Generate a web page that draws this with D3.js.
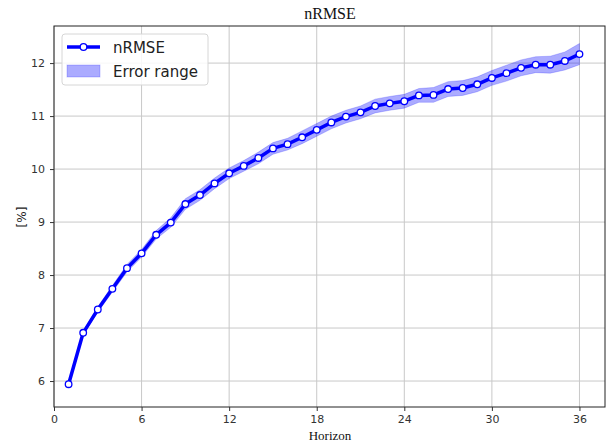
<!DOCTYPE html>
<html><head><meta charset="utf-8">
<script src="https://cdn.jsdelivr.net/npm/d3@7"></script>
<style>body{margin:0;background:#fff}svg{display:block}</style>
</head><body><svg id="c" width="610" height="443"></svg>
<script>
const horizons = [1,2,3,4,5,6,7,8,9,10,11,12,13,14,15,16,17,18,19,20,21,22,23,24,25,26,27,28,29,30,31,32,33,34,35,36];
const nrmse = [5.94,6.91,7.35,7.74,8.13,8.41,8.76,8.99,9.34,9.51,9.73,9.92,10.06,10.21,10.39,10.47,10.60,10.74,10.88,10.99,11.07,11.19,11.24,11.28,11.39,11.40,11.51,11.53,11.60,11.72,11.81,11.91,11.97,11.97,12.04,12.17];
const upper = [5.96,6.94,7.40,7.80,8.20,8.48,8.84,9.08,9.44,9.61,9.83,10.02,10.16,10.32,10.50,10.58,10.72,10.86,11.00,11.11,11.19,11.32,11.37,11.41,11.52,11.54,11.65,11.67,11.74,11.86,11.96,12.06,12.12,12.13,12.21,12.37];
const lower = [5.92,6.88,7.30,7.68,8.06,8.34,8.68,8.90,9.24,9.41,9.63,9.82,9.96,10.10,10.28,10.36,10.48,10.62,10.76,10.87,10.95,11.06,11.11,11.15,11.26,11.26,11.37,11.39,11.46,11.58,11.66,11.76,11.82,11.81,11.87,11.97];
const xTicks = [0,6,12,18,24,30,36];
const yTicks = [6,7,8,9,10,11,12];
const title = "nRMSE", xLabel = "Horizon", yLabel = "[%]";
const legendLabels = ["nRMSE","Error range"];

const svg = d3.select("#c");
const L=54, R=605, T=26, B=407;
const x = d3.scaleLinear().domain([0,37.75]).range([L,R]);
const y = d3.scaleLinear().domain([5.51,12.70]).range([B,T]);

// grid
const g = svg.append("g");
g.selectAll(".gx").data(xTicks).join("line").attr("x1",d=>x(d)).attr("x2",d=>x(d)).attr("y1",T).attr("y2",B).attr("stroke","#c8c8c8").attr("stroke-width",1);
g.selectAll(".gy").data(yTicks).join("line").attr("y1",d=>y(d)).attr("y2",d=>y(d)).attr("x1",L).attr("x2",R).attr("stroke","#c8c8c8").attr("stroke-width",1);

const data = horizons.map((h,i)=>({h, v:nrmse[i], lo:lower[i], hi:upper[i]}));
svg.append("path").datum(data)
  .attr("d", d3.area().x(d=>x(d.h)).y0(d=>y(d.lo)).y1(d=>y(d.hi)))
  .attr("fill","rgb(0,0,255)").attr("fill-opacity",0.33).attr("stroke","rgb(0,0,255)").attr("stroke-opacity",0.2);
svg.append("path").datum(data)
  .attr("d", d3.line().x(d=>x(d.h)).y(d=>y(d.v)))
  .attr("fill","none").attr("stroke","#0000ff").attr("stroke-width",3.5).attr("stroke-linejoin","round");
svg.selectAll(".pt").data(data).join("circle")
  .attr("cx",d=>x(d.h)).attr("cy",d=>y(d.v)).attr("r",3.3)
  .attr("fill","#fff").attr("stroke","#0000ff").attr("stroke-width",1.3);

// frame
svg.append("rect").attr("x",L).attr("y",T).attr("width",R-L).attr("height",B-T).attr("fill","none").attr("stroke","#222").attr("stroke-width",1);

// axes
const xa = svg.append("g").attr("transform",`translate(0,${B})`).call(d3.axisBottom(x).tickValues(xTicks).tickSize(4).tickPadding(4));
const ya = svg.append("g").attr("transform",`translate(${L},0)`).call(d3.axisLeft(y).tickValues(yTicks).tickSize(4).tickPadding(5));
[xa,ya].forEach(a=>{a.select(".domain").remove();a.selectAll("line").attr("stroke","#333");a.selectAll("text").attr("font-family","DejaVu Sans").attr("font-size",11).attr("fill","#333");});

svg.append("text").attr("x",330).attr("y",19).attr("text-anchor","middle").attr("font-family","Liberation Serif").attr("font-size",16).attr("fill","#111").text(title);
svg.append("text").attr("x",330).attr("y",440).attr("text-anchor","middle").attr("font-family","Liberation Serif").attr("font-size",13).attr("fill","#111").text(xLabel);
svg.append("text").attr("transform","translate(26,217) rotate(-90)").attr("text-anchor","middle").attr("font-family","DejaVu Sans").attr("font-size",12).attr("fill","#222").text(yLabel);

// legend
const lg = svg.append("g");
lg.append("rect").attr("x",62).attr("y",34).attr("width",146).attr("height",51).attr("rx",3).attr("fill","#fff").attr("fill-opacity",0.85).attr("stroke","#d6d6d6");
lg.append("line").attr("x1",67).attr("x2",100).attr("y1",47).attr("y2",47).attr("stroke","#0000ff").attr("stroke-width",3.5);
lg.append("circle").attr("cx",83.5).attr("cy",47).attr("r",3.3).attr("fill","#fff").attr("stroke","#0000ff").attr("stroke-width",1.3);
lg.append("rect").attr("x",67).attr("y",65).attr("width",33).attr("height",12).attr("fill","rgb(0,0,255)").attr("fill-opacity",0.33).attr("stroke","rgb(0,0,255)").attr("stroke-opacity",0.2);
lg.selectAll(".lt").data(legendLabels).join("text").attr("x",113).attr("y",(d,i)=>53+i*24)
  .attr("font-family","DejaVu Sans").attr("font-size",15).attr("fill","#222").text(d=>d);
</script></body></html>
